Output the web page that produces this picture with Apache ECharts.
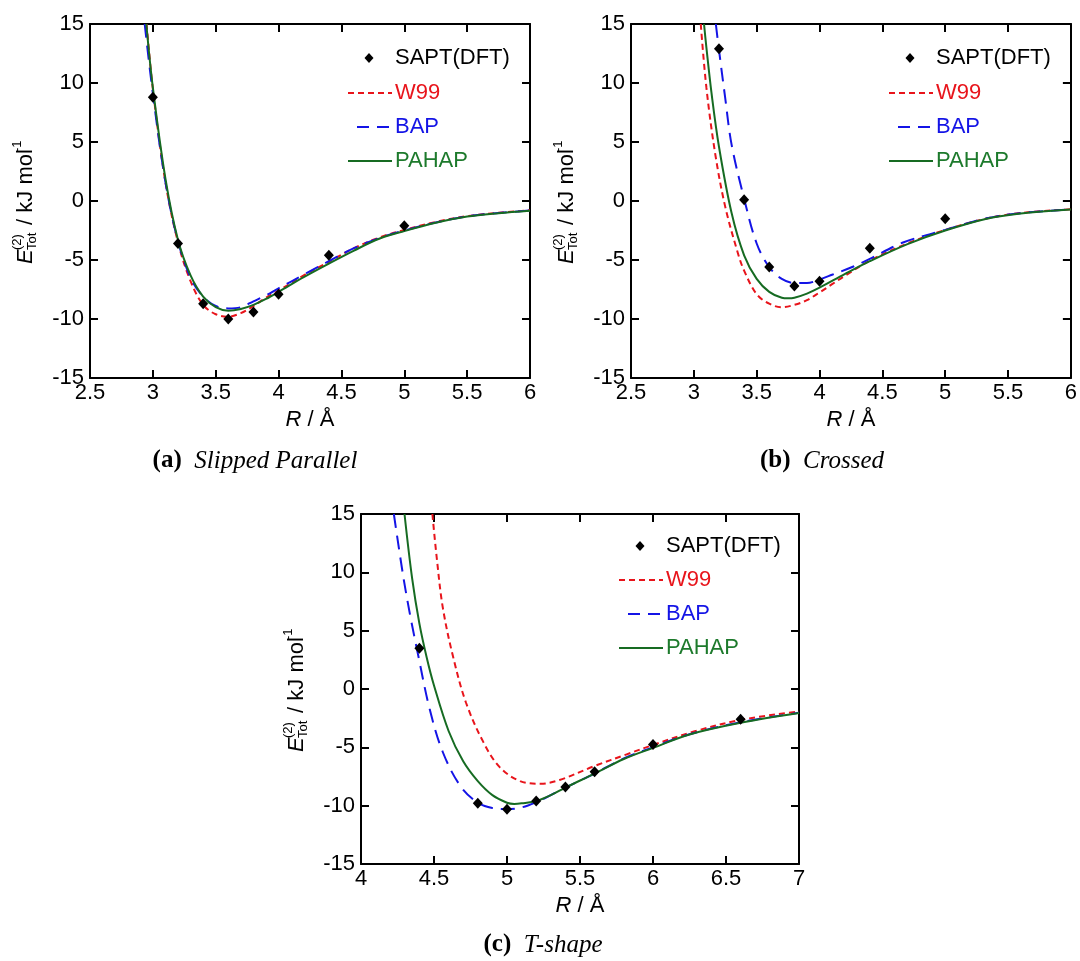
<!DOCTYPE html>
<html><head><meta charset="utf-8">
<script src="https://cdn.jsdelivr.net/npm/echarts@6/dist/echarts.min.js"></script>
<style>html,body{margin:0;padding:0;background:#fff}#c{width:1080px;height:961px}</style>
</head><body><div id="c"></div>
<script>
// ---------- DATA (R / Å, E / kJ mol-1) ----------
// (a) Slipped Parallel
const spSAPT  = [[3.0,8.8],[3.2,-3.6],[3.4,-8.7],[3.6,-10.0],[3.8,-9.4],[4.0,-7.9],[4.4,-4.6],[5.0,-2.1]];
const spW99   = [[2.95,15.0],[3.0,9.5],[3.1,1.6],[3.2,-3.5],[3.3,-6.8],[3.4,-8.8],[3.5,-9.6],[3.6,-9.8],[3.7,-9.5],[3.8,-8.9],[3.9,-8.2],[4.0,-7.6],[4.2,-6.3],[4.4,-5.15],[4.6,-4.0],[4.8,-3.1],[5.0,-2.45],[5.25,-1.78],[5.5,-1.28],[5.75,-1.0],[6.0,-0.78]];
const spBAP   = [[2.935,15.0],[3.0,9.1],[3.1,1.6],[3.2,-3.4],[3.3,-6.5],[3.4,-8.1],[3.5,-8.9],[3.6,-9.1],[3.7,-9.0],[3.8,-8.5],[3.9,-8.0],[4.0,-7.4],[4.2,-6.25],[4.4,-5.1],[4.6,-4.0],[4.8,-3.15],[5.0,-2.5],[5.25,-1.82],[5.5,-1.3],[5.75,-1.02],[6.0,-0.8]];
const spPAHAP = [[2.948,15.0],[3.0,9.6],[3.1,1.9],[3.2,-3.3],[3.3,-6.3],[3.4,-8.1],[3.5,-9.0],[3.6,-9.3],[3.7,-9.15],[3.8,-8.8],[3.9,-8.3],[4.0,-7.7],[4.2,-6.45],[4.4,-5.3],[4.6,-4.2],[4.8,-3.2],[5.0,-2.55],[5.25,-1.85],[5.5,-1.32],[5.75,-1.03],[6.0,-0.82]];
// (b) Crossed
const crSAPT  = [[3.2,12.9],[3.4,0.1],[3.6,-5.6],[3.8,-7.2],[4.0,-6.8],[4.4,-4.0],[5.0,-1.5]];
const crW99   = [[3.055,15.0],[3.1,9.6],[3.17,4.0],[3.25,-0.5],[3.35,-4.4],[3.4,-5.9],[3.5,-7.9],[3.6,-8.7],[3.7,-9.0],[3.8,-8.8],[3.9,-8.4],[4.0,-7.75],[4.1,-7.05],[4.2,-6.35],[4.4,-5.05],[4.7,-3.6],[5.0,-2.45],[5.33,-1.48],[5.6,-1.02],[6.0,-0.7]];
const crBAP   = [[3.175,15.0],[3.2,12.8],[3.25,8.7],[3.3,4.8],[3.4,0.2],[3.5,-3.6],[3.6,-5.6],[3.7,-6.6],[3.8,-6.95],[3.9,-6.95],[4.0,-6.65],[4.1,-6.25],[4.27,-5.55],[4.4,-4.9],[4.67,-3.5],[5.0,-2.45],[5.33,-1.47],[5.6,-1.03],[6.0,-0.71]];
const crPAHAP = [[3.081,15.0],[3.1,13.0],[3.14,9.2],[3.2,4.6],[3.3,-1.0],[3.4,-4.6],[3.5,-6.6],[3.6,-7.7],[3.7,-8.2],[3.75,-8.25],[3.8,-8.2],[3.9,-7.85],[4.0,-7.35],[4.2,-6.2],[4.4,-5.1],[4.7,-3.65],[5.0,-2.5],[5.33,-1.5],[5.6,-1.05],[6.0,-0.72]];
// (c) T-shape
const tsSAPT  = [[4.4,3.5],[4.8,-9.8],[5.0,-10.3],[5.2,-9.6],[5.4,-8.4],[5.6,-7.1],[6.0,-4.75],[6.6,-2.6]];
const tsW99   = [[4.489,15.0],[4.52,11.1],[4.56,7.0],[4.63,2.8],[4.72,-1.2],[4.84,-4.6],[4.95,-6.7],[5.09,-7.9],[5.23,-8.12],[5.36,-7.8],[5.6,-6.6],[5.82,-5.6],[6.0,-4.8],[6.28,-3.65],[6.6,-2.65],[7.0,-1.92]];
const tsBAP   = [[4.225,15.0],[4.29,9.6],[4.34,6.1],[4.39,3.0],[4.47,-1.7],[4.56,-5.4],[4.68,-8.3],[4.8,-9.75],[4.9,-10.2],[5.0,-10.3],[5.1,-10.15],[5.2,-9.7],[5.3,-9.1],[5.4,-8.45],[5.6,-7.25],[5.8,-5.95],[6.0,-5.0],[6.25,-3.88],[6.6,-2.85],[7.0,-2.04]];
const tsPAHAP = [[4.298,15.0],[4.35,9.5],[4.4,5.6],[4.45,2.7],[4.5,0.3],[4.6,-3.6],[4.7,-6.2],[4.8,-7.9],[4.9,-9.1],[5.0,-9.75],[5.05,-9.85],[5.1,-9.8],[5.2,-9.6],[5.3,-9.1],[5.4,-8.45],[5.6,-7.25],[5.8,-6.0],[6.0,-5.05],[6.25,-3.9],[6.6,-2.9],[7.0,-2.06]];

const seriesNames = ['SAPT(DFT)','W99','BAP','PAHAP'];
const xRanges = [[2.5,6],[2.5,6],[4,7]];
const yRange = [-15,15];
const captions = [['(a)','Slipped Parallel'],['(b)','Crossed'],['(c)','T-shape']];
const panelData = [
  [spSAPT, spW99, spBAP, spPAHAP],
  [crSAPT, crW99, crBAP, crPAHAP],
  [tsSAPT, tsW99, tsBAP, tsPAHAP]
];

// ---------- STYLE / LAYOUT ----------
const SANS = '"Liberation Sans", Arial, sans-serif';
const SERIF = '"Liberation Serif", "Times New Roman", serif';
const RED = '#e8141b', BLUE = '#1414e6', GREEN = '#166b22', GREENTXT = '#1d7a2c';
const grids = [
  {left:90, top:24, width:440, height:354},
  {left:631, top:24, width:441, height:354},
  {left:361, top:514, width:438, height:350}
];
const legendY = [[34,69,103,137],[34,69,103,137],[32,66,100,134]];
const captionPos = [[255,461],[822,461],[543,945]];
const FS = 22;
const CFS = 25;

const chart = echarts.init(document.getElementById('c'), null, {renderer:'canvas'});
const xAxis = [], yAxis = [], series = [], graphic = [];

const axisLine = {show:true, onZero:false, lineStyle:{color:'#000', width:2}};
const axisTick = {show:true, inside:true, length:8, lineStyle:{color:'#000', width:2}};

grids.forEach((g, i) => {
  const [xmin, xmax] = xRanges[i];
  xAxis.push({gridIndex:i, type:'value', position:'bottom', min:xmin, max:xmax, interval:0.5,
    axisLine, axisTick, splitLine:{show:false},
    axisLabel:{color:'#000', fontSize:FS, fontFamily:SANS, margin:4},
    name:'{i|R} / Å', nameLocation:'middle', nameGap:31,
    nameTextStyle:{color:'#000', fontSize:FS, fontFamily:SANS,
      rich:{i:{fontStyle:'italic', fontSize:FS, fontFamily:SANS, color:'#000'}}}});
  xAxis.push({gridIndex:i, type:'value', position:'top', min:xmin, max:xmax, interval:0.5,
    axisLine, axisTick, splitLine:{show:false}, axisLabel:{show:false}});
  yAxis.push({gridIndex:i, type:'value', position:'left', min:yRange[0], max:yRange[1], interval:5,
    axisLine, axisTick, splitLine:{show:false},
    axisLabel:{color:'#000', fontSize:FS, fontFamily:SANS, margin:6}});
  yAxis.push({gridIndex:i, type:'value', position:'right', min:yRange[0], max:yRange[1], interval:5,
    axisLine, axisTick, splitLine:{show:false}, axisLabel:{show:false}});

  const d = panelData[i];
  const xi = i*2, yi = i*2;
  series.push({name:seriesNames[1], type:'line', xAxisIndex:xi, yAxisIndex:yi, data:d[1], smooth:0.35,
    showSymbol:false, symbol:'none', lineStyle:{color:RED, width:2, type:[6,4]}, z:2});
  series.push({name:seriesNames[2], type:'line', xAxisIndex:xi, yAxisIndex:yi, data:d[2], smooth:0.35,
    showSymbol:false, symbol:'none', lineStyle:{color:BLUE, width:2, type:[14,8]}, z:3});
  series.push({name:seriesNames[3], type:'line', xAxisIndex:xi, yAxisIndex:yi, data:d[3], smooth:0.35,
    showSymbol:false, symbol:'none', lineStyle:{color:GREEN, width:2}, z:4});
  series.push({name:seriesNames[0], type:'scatter', xAxisIndex:xi, yAxisIndex:yi, data:d[0],
    symbol:'diamond', symbolSize:[10,11], itemStyle:{color:'#000', opacity:1}, z:6});

  // legend (drawn)
  const L = g.left, T = g.top, ly = legendY[i];
  const mx = L+279, tx = L+305;
  graphic.push({type:'polygon', shape:{points:[[mx,T+ly[0]-5],[mx+4.5,T+ly[0]],[mx,T+ly[0]+5],[mx-4.5,T+ly[0]]]}, style:{fill:'#000'}});
  const legLines = [
    {y:ly[1], x1:L+258, color:RED, dash:[6,4]},
    {y:ly[2], x1:L+267, color:BLUE, dash:[12,8]},
    {y:ly[3], x1:L+258, color:GREEN, dash:null}
  ];
  legLines.forEach(ll => {
    graphic.push({type:'line', shape:{x1:ll.x1, y1:T+ll.y, x2:L+302, y2:T+ll.y},
      style:{stroke:ll.color, lineWidth:2, lineDash:ll.dash}});
  });
  const txtColors = ['#000', RED, BLUE, GREENTXT];
  seriesNames.forEach((n, k) => {
    graphic.push({type:'text', x:tx, y:T+ly[k], style:{text:n, fill:txtColors[k], font:`${FS}px ${SANS}`,
      textAlign:'left', textVerticalAlign:'middle', verticalAlign:'middle'}});
  });

  // y-axis title (rotated)
  const gx = L - 64.5, gy = T + g.height/2;
  graphic.push({type:'group', x:gx, y:gy, rotation:Math.PI/2, children:[
    {type:'text', x:-63, y:0, style:{text:'E', font:`italic ${FS}px ${SANS}`, fill:'#000', textAlign:'left', verticalAlign:'middle', textVerticalAlign:'middle'}},
    {type:'text', x:-49, y:-8, style:{text:'(2)', font:`13px ${SANS}`, fill:'#000', textAlign:'left', verticalAlign:'middle', textVerticalAlign:'middle'}},
    {type:'text', x:-49, y:7, style:{text:'Tot', font:`13px ${SANS}`, fill:'#000', textAlign:'left', verticalAlign:'middle', textVerticalAlign:'middle'}},
    {type:'text', x:-30, y:0, style:{text:' / kJ mol', font:`${FS}px ${SANS}`, fill:'#000', textAlign:'left', verticalAlign:'middle', textVerticalAlign:'middle'}},
    {type:'text', x:49, y:-8, style:{text:'-1', font:`13px ${SANS}`, fill:'#000', textAlign:'left', verticalAlign:'middle', textVerticalAlign:'middle'}}
  ]});

  // caption
  graphic.push({type:'text', x:captionPos[i][0], y:captionPos[i][1], style:{
    text:`{b|${captions[i][0]}}  {it|${captions[i][1]}}`, textAlign:'center', align:'center',
    verticalAlign:'middle', textVerticalAlign:'middle',
    rich:{b:{fontWeight:'bold', fontSize:CFS, fontFamily:SERIF, fill:'#000', color:'#000'},
          it:{fontStyle:'italic', fontSize:CFS, fontFamily:SERIF, fill:'#000', color:'#000'}},
    fill:'#000', font:`${CFS}px ${SERIF}`}});
});

chart.setOption({
  animation:false,
  backgroundColor:'#fff',
  grid: grids.map(g => Object.assign({containLabel:false}, g)),
  xAxis, yAxis, series, graphic
});
</script></body></html>
